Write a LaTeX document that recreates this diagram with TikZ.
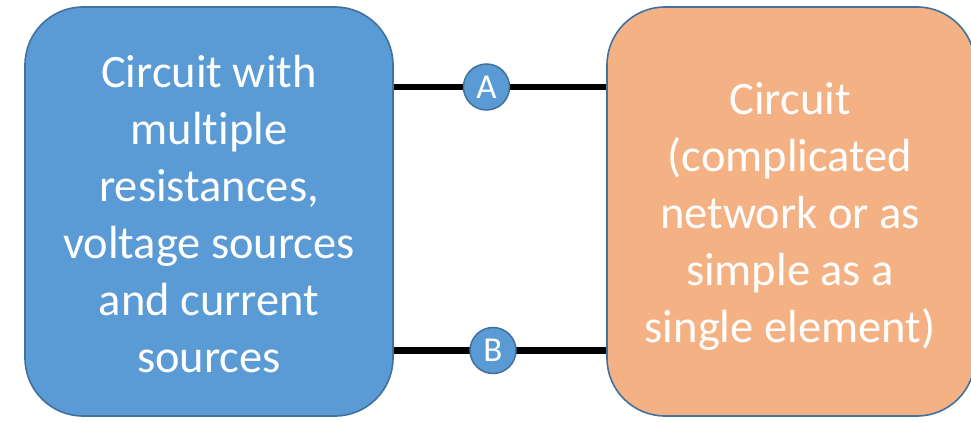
\documentclass[tikz,border=0pt]{standalone}
\usepackage{fontspec}
\setmainfont{Carlito}[Ligatures=NoCommon]
\definecolor{boxblue}{HTML}{5B9BD5}
\definecolor{boxorange}{HTML}{F4B183}
\definecolor{edgeblue}{HTML}{41719C}
\begin{document}
\begin{tikzpicture}[x=1pt,y=1pt,
  block/.style={draw=edgeblue, line width=1.6pt, rounded corners=58pt,
    minimum height=409pt, minimum width=368pt, inner sep=0pt},
  blocktext/.style={align=center, text=white,
    font=\fontsize{46.5}{57}\selectfont, inner sep=0pt},
  terminal/.style={circle, draw=edgeblue, line width=1.5pt, fill=boxblue,
    minimum size=46pt, inner sep=0pt, text=white,
    font=\fontsize{35}{38}\selectfont},
  wire/.style={line width=6.2pt, black}]
\useasboundingbox (0,0) rectangle (971,421);
\begin{scope}
\clip (0,0) rectangle (971,421);
% two circuit blocks
\node[block, fill=boxblue] (src) at (209,209.5) {};
\node[block, fill=boxorange] (load) at (791,209.5) {};
\node[blocktext] (srctext) at (209,207)
  {Circuit with\\multiple\\resistances,\\voltage sources\\and current\\sources};
\node[blocktext] (loadtext) at (790,205)
  {Circuit\\(complicated\\network or as\\simple as a\\single element)};
% terminals A and B with their wires
\coordinate (ta) at (486.5,334);
\coordinate (tb) at (493,70.5);
\draw[wire] (ta -| src.east) -- (ta -| load.west);
\draw[wire] (tb -| src.east) -- (tb -| load.west);
\node[terminal] (pa) at (ta) {A};
\node[terminal] (pb) at (tb) {B};
\end{scope}
\end{tikzpicture}
\end{document}
